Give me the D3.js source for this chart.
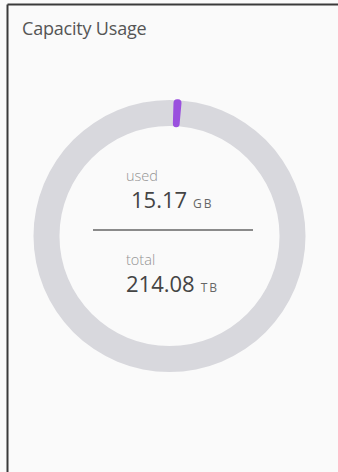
<!DOCTYPE html>
<html>
<head>
<meta charset="utf-8">
<script src="https://cdn.jsdelivr.net/npm/d3@7"></script>
<style>
  html, body { margin: 0; padding: 0; background: #fafafa; }
  svg { display: block; }
</style>
</head>
<body>
<svg id="chart" width="338" height="472"></svg>
<script>
// Capacity figures shown in the donut
const categories = ["used", "free"];
const usedValue = 15.17;      // GB
const usedUnit = "GB";
const totalValue = 214.08;    // TB
const totalUnit = "TB";
const labels = ["used", "total"];

const W = 338, H = 472;
const svg = d3.select("#chart");

// card background and frame
svg.append("rect").attr("x", 0).attr("y", 0).attr("width", W).attr("height", H).attr("fill", "#fafafa");
svg.append("line").attr("x1", 7.5).attr("x2", W).attr("y1", 4.5).attr("y2", 4.5)
  .attr("stroke", "#3a3a3a").attr("stroke-width", 2);
svg.append("line").attr("x1", 7.5).attr("x2", 7.5).attr("y1", 4.5).attr("y2", H)
  .attr("stroke", "#3a3a3a").attr("stroke-width", 2);

svg.append("text")
  .attr("x", 22).attr("y", 35)
  .attr("font-family", "Open Sans, sans-serif")
  .attr("font-size", 18)
  .attr("letter-spacing", -0.2)
  .attr("fill", "#555")
  .text("Capacity Usage");

// donut
const cx = 169.5, cy = 236;
const outerR = 136, innerR = 110;
const g = svg.append("g").attr("transform", `translate(${cx},${cy})`);

// both values in GB so the share is computed on a common unit
const usedGB = usedValue;
const totalGB = totalValue * 1024;
const share = usedGB / totalGB;

// angle scale over the full circle; tiny shares get a minimum visible sweep
const angle = d3.scaleLinear().domain([0, 1]).range([0, 2 * Math.PI]);
const minSweep = 0.06;
const startGap = 0.03;
const sweep = Math.max(angle(share), minSweep);

const arc = d3.arc().innerRadius(innerR).outerRadius(outerR);

g.append("path")
  .attr("d", arc({ startAngle: 0, endAngle: angle(1) }))
  .attr("fill", "#d8d8dd");

g.append("path")
  .datum({ category: categories[0] })
  .attr("d", d3.arc().innerRadius(innerR - 1).outerRadius(outerR + 1).cornerRadius(3.7)
    ({ startAngle: startGap, endAngle: startGap + sweep }))
  .attr("fill", "#9a50de");

// centre labels
const font = "Open Sans, sans-serif";
const fmt = d3.format(".2f");

function valueBlock(label, value, unit, yLabel, yValue, xLabel, xValue) {
  svg.append("text").attr("x", xLabel).attr("y", yLabel)
    .attr("font-family", font).attr("font-weight", 300).attr("font-size", 14.5)
    .attr("fill", "#939393").text(label);
  const t = svg.append("text").attr("x", xValue).attr("y", yValue)
    .attr("font-family", font).attr("font-size", 22).attr("fill", "#444");
  t.append("tspan").text(fmt(value));
  t.append("tspan").attr("dx", 6).attr("font-size", 12).attr("letter-spacing", 2)
    .attr("fill", "#666").text(unit);
}

valueBlock(labels[0], usedValue, usedUnit, 180.5, 208, 126, 131);

svg.append("line").attr("x1", 93).attr("x2", 253).attr("y1", 230).attr("y2", 230)
  .attr("stroke", "#8a8a8a").attr("stroke-width", 2);

valueBlock(labels[1], totalValue, totalUnit, 264.5, 292, 126, 126);
</script>
</body>
</html>
